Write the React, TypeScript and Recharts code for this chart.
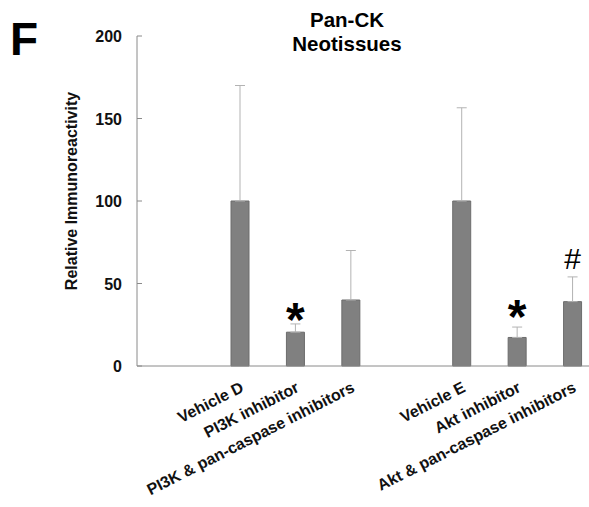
import React from 'react';
import { BarChart, Bar, XAxis, YAxis, ErrorBar, LabelList } from 'recharts';

// bars (blank slot separates the two groups)
const categories = [
  'Vehicle D',
  'PI3K inhibitor',
  'PI3K & pan-caspase inhibitors',
  '',
  'Vehicle E',
  'Akt inhibitor',
  'Akt & pan-caspase inhibitors',
];
const values = [100, 20.5, 40, null, 100, 17.3, 39];
const upperErrors = [70, 5, 30, null, 56.5, 6.3, 15];
const marks = ['', '*', '', '', '', '*', '#'];
const yTicks = [0, 50, 100, 150, 200];

const data = categories.map((name, i) => ({
  name,
  value: values[i],
  err: upperErrors[i] == null ? null : [0, upperErrors[i]],
  mark: marks[i],
}));

const FONT = '"Liberation Sans", Arial, Helvetica, sans-serif';
const AXIS_X = 137;
const axisColor = '#8a8a8a';
const textColor = '#111';

const YTick = (props: any) => {
  const { x, y, payload } = props;
  return (
    <g>
      <line x1={AXIS_X} x2={AXIS_X + 5} y1={y} y2={y} stroke={axisColor} />
      <text x={x} y={y} dy={6} textAnchor="end" fontFamily={FONT} fontSize={16} fontWeight="bold" fill={textColor}>
        {payload.value}
      </text>
    </g>
  );
};

const XTick = (props: any) => {
  const { x, y, payload } = props;
  if (!payload.value) return null;
  const ax = x + 5;
  const ay = y + 23;
  return (
    <text
      x={ax}
      y={ay}
      transform={`rotate(-27, ${ax}, ${ay})`}
      textAnchor="end"
      fontFamily={FONT}
      fontSize={16}
      fontWeight="bold"
      fill={textColor}
    >
      {payload.value}
    </text>
  );
};

// significance marks sit just above the error bar cap
const MarkLabel = (props: any) => {
  const { x, y, width, height, value, index } = props;
  if (!value) return null;
  const v = values[index] as number;
  const pxPerUnit = height / v;
  const capY = y - (upperErrors[index] as number) * pxPerUnit;
  const star = value === '*';
  return (
    <text
      x={x + width / 2}
      y={star ? capY + 12 : capY - 9}
      textAnchor="middle"
      fontFamily={FONT}
      fontSize={star ? 48 : 30}
      fontWeight={star ? 'bold' : 'normal'}
      fill="#000"
    >
      {value}
    </text>
  );
};

export default function App() {
  return (
    <div style={{ position: 'fixed', left: 0, top: 0, width: 589, height: 507, overflow: 'hidden', background: '#fff' }}>
      <BarChart width={600} height={507} data={data} margin={{ top: 36, right: 0, bottom: 111, left: 0 }}>
        <XAxis
          dataKey="name"
          height={30}
          interval={0}
          padding={{ left: 75, right: 0 }}
          tickLine={false}
          tickSize={0}
          axisLine={{ stroke: axisColor }}
          tick={<XTick />}
        />
        <YAxis
          width={AXIS_X}
          domain={[0, 200]}
          ticks={yTicks}
          tickLine={false}
          tickSize={0}
          tickMargin={15}
          axisLine={{ stroke: axisColor }}
          tick={<YTick />}
        />
        <Bar dataKey="value" fill="#808080" stroke="#6c6c6c" strokeWidth={1} barSize={18} isAnimationActive={false}>
          <ErrorBar dataKey="err" width={5} stroke="#b3b3b3" strokeWidth={1} direction="y" />
          <LabelList dataKey="mark" content={<MarkLabel />} />
        </Bar>
      </BarChart>
      <svg width={589} height={507} style={{ position: 'absolute', left: 0, top: 0, pointerEvents: 'none' }}>
        <text x={10} y={55} fontFamily={FONT} fontSize={46} fontWeight="bold" fill="#000">F</text>
        <text x={347} y={27} textAnchor="middle" fontFamily={FONT} fontSize={20.5} fontWeight="bold" fill="#000">Pan-CK</text>
        <text x={347} y={51} textAnchor="middle" fontFamily={FONT} fontSize={20.5} fontWeight="bold" fill="#000">Neotissues</text>
        <text
          transform="translate(77, 191) rotate(-90)"
          textAnchor="middle"
          fontFamily={FONT}
          fontSize={16}
          fontWeight="bold"
          fill={textColor}
        >
          Relative Immunoreactivity
        </text>
      </svg>
    </div>
  );
}
